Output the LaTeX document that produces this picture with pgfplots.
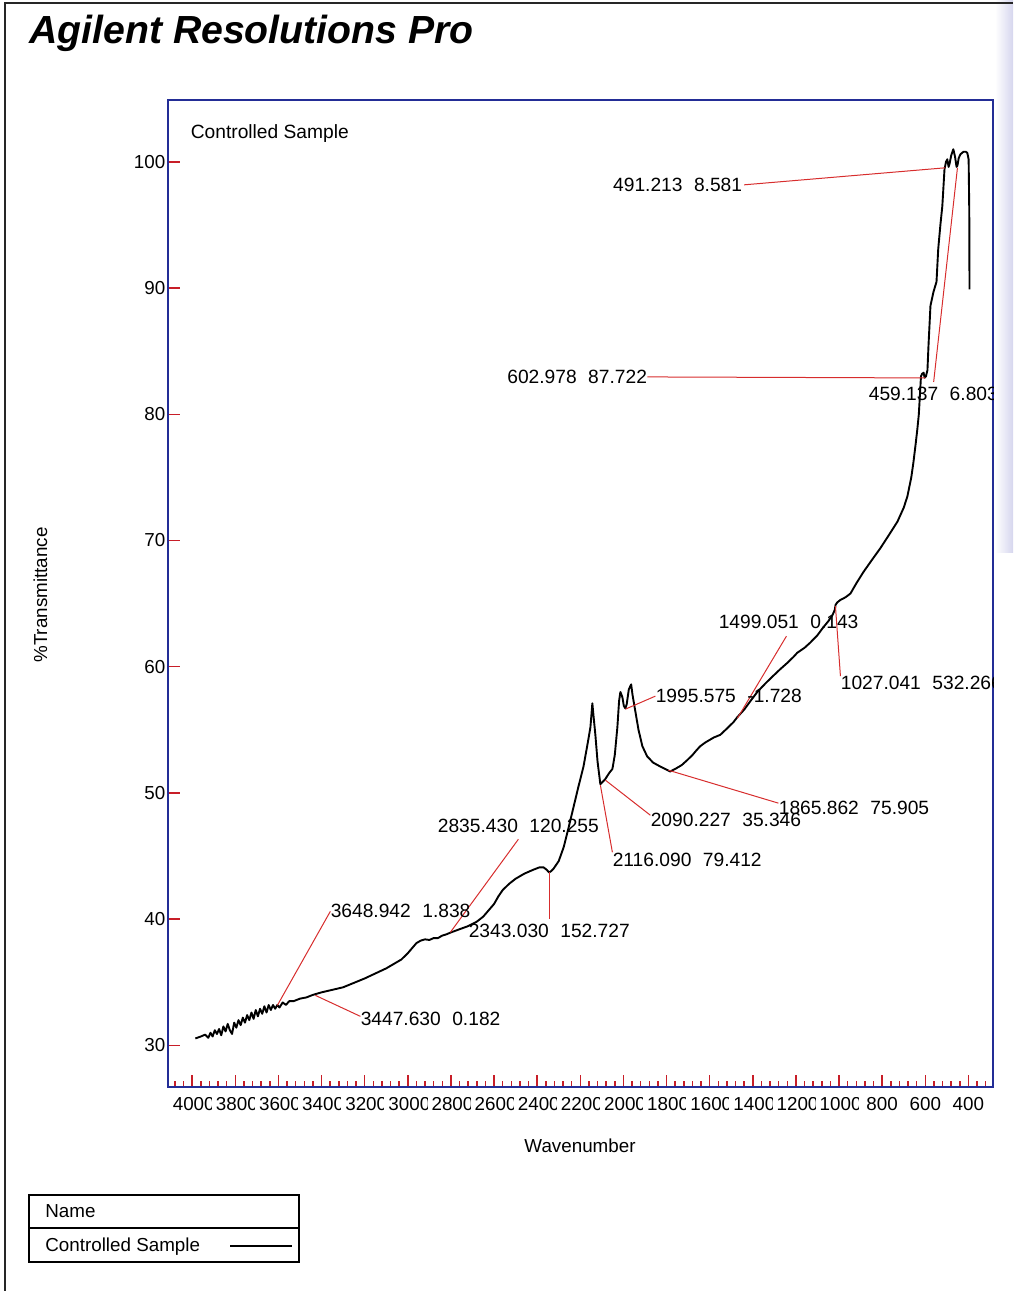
\documentclass[border=0pt]{standalone}
\usepackage{fontspec}
\setmainfont{Liberation Sans}
\setsansfont{Liberation Sans}
\usepackage{pgfplots}
\pgfplotsset{compat=1.18}
\usepackage{trimclip}

\definecolor{axisblue}{RGB}{35,45,150}
\definecolor{tickred}{RGB}{200,30,40}
\definecolor{leadred}{RGB}{215,45,45}
\definecolor{scanlav}{RGB}{214,214,238}

\newcommand\ann{\fontsize{9.6}{11}\selectfont}
\newcommand\cb[1]{\clipbox{0pt 0pt 1.6pt 0pt}{#1}}
\newcommand\gap{\hspace{0.6em}}

\begin{document}
\begin{tikzpicture}
\useasboundingbox (0pt,0pt) rectangle (506.5pt,-645.5pt);

% page furniture (coordinates in pixels from the top-left corner)
\begin{scope}[x=0.5pt,y=-0.5pt]
  \shade[left color=white, right color=scanlav] (995,0) rectangle (1013,552);
  \draw[line width=1pt, black!85] (5,1291) -- (5,3) -- (1013,3);
  \node[anchor=base west, inner sep=0pt, font=\fontsize{19.6}{22}\selectfont\bfseries\itshape]
    at (29,43) {Agilent Resolutions Pro};
  \node[anchor=base, inner sep=0pt, font=\fontsize{9.4}{11}\selectfont] at (580,1152) {Wavenumber};
  \node[anchor=base, rotate=90, inner sep=0pt, font=\fontsize{9.4}{11}\selectfont] at (47,595) {\%Transmittance};
  % legend table
  \draw[line width=0.6pt, black] (29,1195) rectangle (299,1262);
  \draw[line width=0.6pt, black] (29,1228) -- (299,1228);
  \node[anchor=base west, inner sep=0pt, font=\fontsize{9.4}{11}\selectfont] at (45,1217) {Name};
  \node[anchor=base west, inner sep=0pt, font=\fontsize{9.4}{11}\selectfont] at (45,1251) {Controlled Sample};
  \draw[line width=0.9pt, black] (230,1246) -- (292,1246);
\end{scope}

\begin{axis}[
  at={(84pt,-543.5pt)}, anchor=south west,
  scale only axis, width=412.5pt, height=493.5pt,
  x dir=reverse,
  xmin=286, xmax=4112, ymin=26.7, ymax=104.9,
  axis line style={draw=axisblue, line width=0.8pt},
  tick pos=left, tick align=inside,
  xtick={400,600,...,4000},
  xticklabels={400,600,800,\cb{1000},\cb{1200},\cb{1400},\cb{1600},\cb{1800},\cb{2000},
    \cb{2200},\cb{2400},\cb{2600},\cb{2800},\cb{3000},\cb{3200},\cb{3400},\cb{3600},\cb{3800},\cb{4000}},
  minor xtick={320,360,...,4080},
  ytick={30,40,...,100},
  major tick length=6pt, minor tick length=3pt,
  tick style={draw=tickred, line width=0.75pt},
  tick label style={font=\fontsize{9.4}{11}\selectfont, text=black},
  xticklabel style={yshift=-1.5pt},
  yticklabel style={xshift=2.2pt},
  /pgf/number format/assume math mode=true,
  clip mode=global,
]
\addplot[black, line width=0.95pt, line join=round] table {
3985 30.55
3960 30.7
3940 30.85
3925 30.6
3915 31.0
3905 30.7
3895 31.2
3885 30.9
3875 31.3
3865 30.8
3855 31.5
3845 31.1
3835 31.7
3825 31.2
3815 30.9
3805 31.8
3795 31.4
3785 32.0
3775 31.6
3765 32.2
3755 31.8
3745 32.4
3735 32.0
3725 32.6
3715 32.1
3705 32.8
3695 32.3
3685 32.9
3675 32.5
3665 33.1
3655 32.6
3645 33.2
3635 32.8
3625 33.2
3615 32.9
3605 33.2
3595 33.0
3580 33.4
3565 33.2
3550 33.5
3530 33.5
3500 33.7
3470 33.8
3440 34.0
3420 34.1
3400 34.2
3350 34.4
3300 34.6
3250 34.95
3200 35.3
3150 35.7
3100 36.1
3060 36.5
3030 36.8
3000 37.3
2980 37.7
2960 38.1
2940 38.3
2920 38.4
2900 38.35
2880 38.5
2860 38.5
2840 38.7
2820 38.8
2800 38.95
2760 39.2
2720 39.45
2680 39.8
2650 40.2
2620 40.8
2600 41.2
2580 41.8
2560 42.3
2530 42.8
2500 43.2
2460 43.6
2420 43.9
2390 44.1
2370 44.1
2355 43.9
2345 43.7
2335 43.8
2324 44.0
2300 44.6
2277 45.7
2255 47.2
2231 48.9
2210 50.4
2185 52.1
2165 54.0
2153 55.2
2144 57.1
2138 56.0
2130 54.6
2120 52.5
2107 50.7
2095 50.9
2084 51.1
2065 51.6
2051 51.9
2040 53.0
2028 55.2
2020 57.3
2014 58.0
2005 57.6
1998 56.9
1991 56.7
1985 57.0
1975 58.2
1964 58.6
1958 57.8
1945 56.5
1930 55.0
1912 53.7
1890 52.9
1862 52.4
1830 52.1
1800 51.85
1783 51.7
1760 51.9
1730 52.2
1704 52.6
1680 53.0
1660 53.4
1644 53.7
1620 54.0
1600 54.2
1580 54.4
1551 54.6
1520 55.1
1490 55.6
1472 56.0
1440 56.6
1410 57.3
1379 58.0
1340 58.7
1310 59.2
1273 59.8
1240 60.3
1210 60.8
1194 61.1
1160 61.5
1134 61.9
1100 62.5
1074 63.1
1050 63.6
1030 64.1
1020 64.5
1016 64.9
1008 65.1
993 65.3
970 65.5
947 65.8
920 66.6
887 67.5
850 68.4
808 69.4
770 70.4
729 71.5
700 72.6
683 73.5
665 75.0
655 76.2
645 77.6
637 78.8
630 80.0
625 81.5
620 83.0
615 83.2
608 83.3
603 82.9
597 83.0
590 83.5
585 85.5
576 88.6
562 89.7
548 90.5
540 93.1
530 95.0
521 96.5
511 99.4
504 100.0
498 100.2
492 99.6
488 99.8
480 100.5
470 101.0
462 100.4
455 99.6
451 99.7
445 100.3
437 100.6
423 100.8
412 100.8
405 100.7
399 100.2
396 96.0
395 89.9
};

\node[anchor=base west, inner sep=0pt, font=\ann] at (axis cs:4008,101.83) {Controlled Sample};

% peak-pick annotations with leader lines
\begin{scope}[every node/.style={font=\ann, inner sep=0pt, text=black}]
\draw[leadred, line width=0.5pt] (axis cs:1440,98.18) -- (axis cs:506.5,99.53);
\node[anchor=east] at (axis cs:1447.6,98.18) {491.213\gap 8.581};

\draw[leadred, line width=0.5pt] (axis cs:1888.7,82.96) -- (axis cs:599.3,82.88);
\node[anchor=east] at (axis cs:1888.7,82.96) {602.978\gap 87.722};

\draw[leadred, line width=0.5pt] (axis cs:561.2,82.56) -- (axis cs:450.9,99.53);
\node[anchor=west] at (axis cs:863.6,81.61) {459.137\gap 6.803};

\draw[leadred, line width=0.5pt] (axis cs:1244,62.42) -- (axis cs:1471.2,55.92);
\node[anchor=west] at (axis cs:1559.4,63.53) {1499.051\gap 0.143};

\draw[leadred, line width=0.5pt] (axis cs:1016.7,64.80) -- (axis cs:993.5,59.25);
\node[anchor=west] at (axis cs:993.5,58.7) {1027.041\gap 532.266};

\draw[leadred, line width=0.5pt] (axis cs:1851.6,57.67) -- (axis cs:1990.7,56.64);
\node[anchor=west] at (axis cs:1851.6,57.67) {1995.575\gap -1.728};

\draw[leadred, line width=0.5pt] (axis cs:1281,49.19) -- (axis cs:1791.3,51.80);
\node[anchor=west] at (axis cs:1281,48.79) {1865.862\gap 75.905};

\draw[leadred, line width=0.5pt] (axis cs:1874.8,48.23) -- (axis cs:2083.5,51.01);
\node[anchor=west] at (axis cs:1874.8,47.84) {2090.227\gap 35.346};

\draw[leadred, line width=0.5pt] (axis cs:2051.1,45.30) -- (axis cs:2106.7,50.61);
\node[anchor=west] at (axis cs:2051.1,44.67) {2116.090\gap 79.412};

\draw[leadred, line width=0.5pt] (axis cs:2487,46.33) -- (axis cs:2802.4,38.96);
\node[anchor=center] at (axis cs:2487,47.36) {2835.430\gap 120.255};

\draw[leadred, line width=0.5pt] (axis cs:2343.2,43.71) -- (axis cs:2343.2,39.99);
\node[anchor=west] at (axis cs:2718.9,39.04) {2343.030\gap 152.727};

\draw[leadred, line width=0.5pt] (axis cs:3359,40.62) -- (axis cs:3604.8,33.17);
\node[anchor=west] at (axis cs:3359,40.62) {3648.942\gap 1.838};

\draw[leadred, line width=0.5pt] (axis cs:3219.9,32.30) -- (axis cs:3428.6,33.96);
\node[anchor=west] at (axis cs:3219.9,32.06) {3447.630\gap 0.182};
\end{scope}
\end{axis}
\end{tikzpicture}
\end{document}
